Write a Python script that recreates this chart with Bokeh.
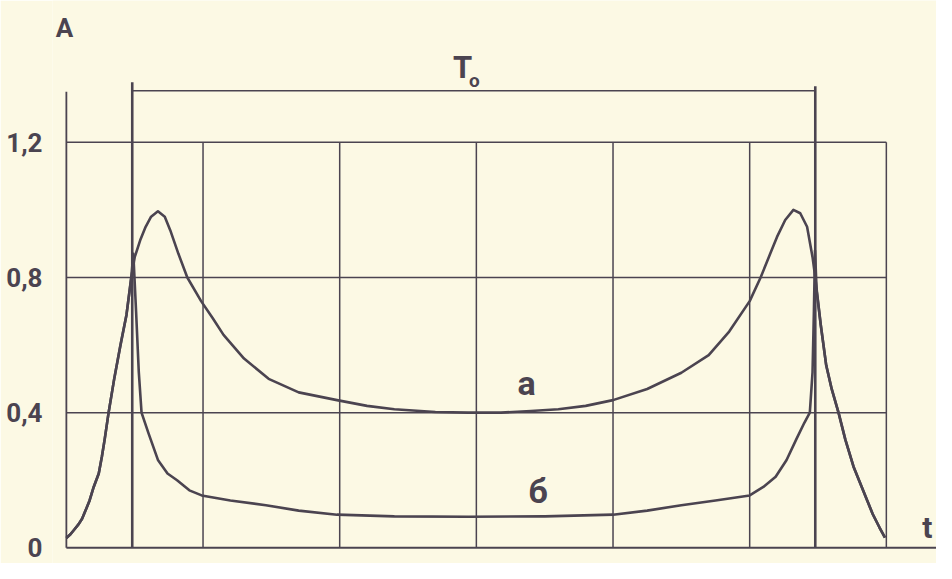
from bokeh.plotting import figure
from bokeh.models import Range1d, FixedTicker, ColumnDataSource
from bokeh.core.properties import value
from bokeh.embed import file_html
from bokeh.resources import INLINE

# ---------------- data ----------------
# time axis in grid cells (T0 = 5 cells), amplitude A
y_tick_values = [0, 0.4, 0.8, 1.2]
y_tick_labels = ["0", "0,4", "0,8", "1,2"]
grid_x = [0, 1, 2, 3, 4, 5, 6]
grid_y = [0.4, 0.8, 1.2]

t0_start = 0.482
t0_end = 5.48

x_a = [0.0, 0.03, 0.06, 0.09, 0.115, 0.14, 0.17, 0.20, 0.237, 0.26, 0.28, 0.309, 0.35, 0.396, 0.44, 0.475,
       0.50, 0.54, 0.58, 0.62, 0.67, 0.72, 0.76, 0.82, 0.885, 0.986, 1.07, 1.15,
       1.3, 1.48, 1.7, 1.98, 2.2, 2.4, 2.7, 2.94, 3.18, 3.4, 3.6, 3.8, 4.0, 4.25,
       4.5, 4.7, 4.85, 5.0, 5.08, 5.15, 5.2, 5.26, 5.32, 5.37, 5.42, 5.46, 5.48,
       5.52, 5.56, 5.60, 5.65, 5.70, 5.76, 5.82, 5.86, 5.9, 5.95, 5.99]
y_a = [0.029, 0.04, 0.055, 0.07, 0.086, 0.11, 0.14, 0.18, 0.22, 0.27, 0.32, 0.40, 0.50, 0.60, 0.69, 0.80,
       0.86, 0.91, 0.95, 0.98, 0.996, 0.98, 0.94, 0.87, 0.80, 0.73, 0.68, 0.63,
       0.56, 0.50, 0.46, 0.437, 0.42, 0.41, 0.402, 0.40, 0.40, 0.405, 0.41, 0.42, 0.437, 0.47,
       0.518, 0.57, 0.64, 0.73, 0.80, 0.87, 0.92, 0.97, 1.0, 0.99, 0.95, 0.86, 0.80,
       0.66, 0.54, 0.47, 0.40, 0.32, 0.24, 0.18, 0.14, 0.10, 0.06, 0.03]

x_b = [0.0, 0.03, 0.06, 0.09, 0.115, 0.14, 0.17, 0.20, 0.237, 0.26, 0.28, 0.309, 0.35, 0.396, 0.44, 0.475,
       0.49, 0.51, 0.53, 0.55, 0.60, 0.67, 0.74, 0.81, 0.9, 0.99, 1.2, 1.46,
       1.7, 1.98, 2.4, 2.94, 3.5, 4.0, 4.25, 4.5, 4.75, 5.0, 5.1, 5.19, 5.27,
       5.34, 5.4, 5.44, 5.46, 5.47, 5.478, 5.49,
       5.52, 5.56, 5.60, 5.65, 5.70, 5.76, 5.82, 5.86, 5.9, 5.95, 5.99]
y_b = [0.029, 0.04, 0.055, 0.07, 0.086, 0.11, 0.14, 0.18, 0.22, 0.27, 0.32, 0.40, 0.50, 0.60, 0.69, 0.80,
       0.87, 0.70, 0.52, 0.40, 0.34, 0.26, 0.22, 0.20, 0.17, 0.155, 0.14, 0.126,
       0.11, 0.098, 0.093, 0.092, 0.093, 0.098, 0.11, 0.126, 0.14, 0.155, 0.18, 0.21, 0.26,
       0.32, 0.37, 0.40, 0.52, 0.70, 0.88, 0.76,
       0.66, 0.54, 0.47, 0.40, 0.32, 0.24, 0.18, 0.14, 0.10, 0.06, 0.03]

# ---------------- style ----------------
BG = "#fcf9e4"
INK = "#4b4450"
FONT = "Roboto"

p = figure(width=936, height=563, output_backend="svg", toolbar_location=None,
           x_axis_location=None,
           x_range=Range1d(-0.1015, 6.367),
           y_range=Range1d(-0.0465, 1.6197),
           min_border_left=52, min_border_right=0, min_border_top=0, min_border_bottom=0)
p.background_fill_color = BG
p.border_fill_color = BG
p.outline_line_color = None
p.grid.visible = False

ax = p.yaxis[0]
ax.ticker = FixedTicker(ticks=y_tick_values)
ax.major_label_overrides = {v: l for v, l in zip(y_tick_values, y_tick_labels)}
ax.axis_line_color = None
ax.major_tick_line_color = None
ax.minor_tick_line_color = None
ax.major_tick_out = 0
ax.major_tick_in = 0
ax.major_label_standoff = 10
ax.major_label_text_font = FONT
ax.major_label_text_font_style = "bold"
ax.major_label_text_font_size = "26px"
ax.major_label_text_color = INK

# grid: verticals up to 1.2, horizontals across 6 cells
p.segment(x0=grid_x[1:], y0=[0] * 6, x1=grid_x[1:], y1=[1.2] * 6,
          line_color=INK, line_width=1.5)
p.segment(x0=[0] * 3, y0=grid_y, x1=[6] * 3, y1=grid_y, line_color=INK, line_width=1.5)
# axes
p.segment(x0=[0], y0=[0], x1=[0], y1=[1.35], line_color=INK, line_width=1.8)
p.segment(x0=[0], y0=[0], x1=[6.4], y1=[0], line_color=INK, line_width=2)

# T0 markers
p.segment(x0=[t0_start, t0_end], y0=[0, 0], x1=[t0_start, t0_end], y1=[1.378, 1.366],
          line_color=INK, line_width=2.6)
p.segment(x0=[t0_start], y0=[1.3525], x1=[t0_end], y1=[1.3525], line_color=INK, line_width=1.6)

# curves
p.line(x_a, y_a, line_color=INK, line_width=2.6, line_join="round")
p.line(x_b, y_b, line_color=INK, line_width=2.6, line_join="round")

def lab(x, y, txt, size, style="bold"):
    src = ColumnDataSource(dict(x=[x], y=[y], t=[txt]))
    p.text(x="x", y="y", text="t", source=src, text_font=value(FONT),
           text_font_style=style, text_font_size=size, text_color=INK,
           text_align="center", text_baseline="middle")

lab(-0.014, 1.537, "A", "26px")
lab(2.899, 1.4217, "T", "31px")
lab(2.986, 1.384, "o", "19px")
lab(3.367, 0.489, "а", "34px")
lab(3.453, 0.167, "б", "34px")
lab(6.30, 0.060, "t", "30px")

open("out.html", "w").write(file_html(p, INLINE))
